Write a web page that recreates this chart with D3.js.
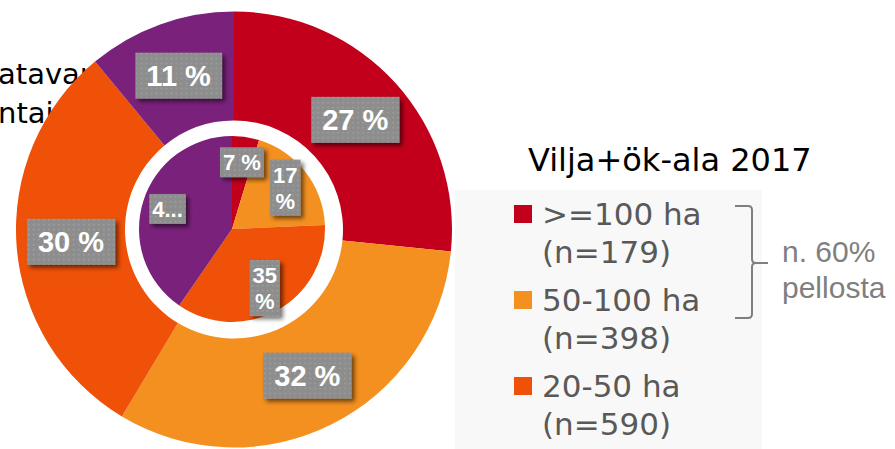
<!DOCTYPE html>
<html>
<head>
<meta charset="utf-8">
<script src="https://cdn.jsdelivr.net/npm/d3@7"></script>
<style>
  body { margin: 0; background: #fff; }
  svg { display: block; }
</style>
</head>
<body>
<svg id="chart" width="895" height="449"></svg>
<script>
// data
var categories = ['>=100 ha', '50-100 ha', '20-50 ha', 'alle 20 ha'];
var legendCounts = [179, 398, 590];
var outerValues = [26.6, 32.0, 30.4, 11.0];   // outer ring
var innerValues = [4.7, 19.6, 35.3, 40.4];    // inner pie
var innerLabels = [['7 %'], ['17', '%'], ['35', '%'], ['4...']];
var colors = ['#c3001b', '#f39020', '#ee5107', '#7a217c'];
var title = 'Vilja+ök-ala 2017';
var note = ['n. 60%', 'pellosta'];
var behindText = ['atavar', 'ntai'];

var svg = d3.select('#chart');
var defs = svg.append('defs');

var pat = defs.append('pattern')
  .attr('id', 'dots').attr('width', 5).attr('height', 5)
  .attr('patternUnits', 'userSpaceOnUse');
pat.append('rect').attr('width', 5).attr('height', 5).attr('fill', '#8d8d8d');
pat.append('rect').attr('x', 2).attr('y', 2).attr('width', 1.5).attr('height', 1.5).attr('fill', '#a2a2a2');

var shadow = defs.append('filter').attr('id', 'shadow')
  .attr('x', '-20%').attr('y', '-20%').attr('width', '150%').attr('height', '160%');
shadow.append('feGaussianBlur').attr('in', 'SourceAlpha').attr('stdDeviation', 2);
shadow.append('feOffset').attr('dx', 3).attr('dy', 3).attr('result', 'off');
shadow.append('feComponentTransfer').append('feFuncA').attr('type', 'linear').attr('slope', 0.55);
var merge = shadow.append('feMerge');
merge.append('feMergeNode');
merge.append('feMergeNode').attr('in', 'SourceGraphic');

// text sitting behind the donut (cut off in the original)
svg.selectAll('text.behind').data(behindText).enter()
  .append('text').attr('class', 'behind')
  .attr('x', -2).attr('y', function(d, i) { return 84 + i * 39; })
  .attr('font-family', 'DejaVu Sans').attr('font-size', 29).attr('fill', '#000')
  .text(function(d) { return d; });

// legend background + title
svg.append('rect').attr('x', 455).attr('y', 190).attr('width', 307).attr('height', 259).attr('fill', '#f8f8f8');
svg.append('text').attr('x', 528).attr('y', 171)
  .attr('font-family', 'DejaVu Sans').attr('font-size', 32).attr('fill', '#000')
  .text(title);

var pie = d3.pie().sort(null).value(function(d) { return d; });

// outer ring
var outer = svg.append('g').attr('transform', 'translate(234,229.5)');
var outerArc = d3.arc().innerRadius(109).outerRadius(218);
outer.selectAll('path').data(pie(outerValues)).enter()
  .append('path').attr('d', outerArc)
  .attr('fill', function(d, i) { return colors[i]; });

// inner pie
var inner = svg.append('g').attr('transform', 'translate(232,229)');
var innerArc = d3.arc().innerRadius(0).outerRadius(93);
var innerLabelArc = d3.arc().innerRadius(42).outerRadius(93);
inner.selectAll('path').data(pie(innerValues)).enter()
  .append('path').attr('d', innerArc)
  .attr('fill', function(d, i) { return colors[i]; });

function drawLabel(g, pos, lines, fs, padX, padY, lh) {
  var lab = g.append('g').attr('transform', 'translate(' + pos[0] + ',' + pos[1] + ')');
  var box = lab.append('rect').attr('fill', 'url(#dots)').attr('filter', 'url(#shadow)');
  var txt = lab.append('text')
    .attr('font-family', 'Liberation Sans, Arial').attr('font-weight', 'bold')
    .attr('font-size', fs).attr('fill', '#fff').attr('text-anchor', 'middle');
  lines.forEach(function(l, i) {
    txt.append('tspan').attr('x', 0)
      .attr('y', (i - (lines.length - 1) / 2) * lh + fs * 0.36)
      .text(l);
  });
  var bb = txt.node().getBBox();
  var h = lines.length * lh;
  box.attr('x', bb.x - padX).attr('y', -h / 2 - padY)
    .attr('width', bb.width + padX * 2).attr('height', h + padY * 2);
}

pie(outerValues).forEach(function(d) {
  drawLabel(outer, outerArc.centroid(d), [Math.round(d.data) + ' %'], 29, 11, 7, 32);
});
pie(innerValues).forEach(function(d, i) {
  drawLabel(inner, innerLabelArc.centroid(d), innerLabels[i], 22, 3, 2, 26);
});

// legend items (first three categories)
var legend = svg.append('g');
var item = legend.selectAll('g').data(legendCounts).enter()
  .append('g').attr('transform', function(d, i) { return 'translate(0,' + (225 + i * 86) + ')'; });
item.append('rect').attr('x', 514).attr('y', -20).attr('width', 18).attr('height', 18)
  .attr('fill', function(d, i) { return colors[i]; });
var it = item.append('text').attr('font-family', 'DejaVu Sans').attr('font-size', 31).attr('fill', '#595959');
it.append('tspan').attr('x', 542).attr('y', 0).text(function(d, i) { return categories[i]; });
it.append('tspan').attr('x', 542).attr('y', 37.5).text(function(d) { return '(n=' + d + ')'; });

// bracket + note
svg.append('path')
  .attr('d', 'M735,206 L748,206 Q752,206 752,210 L752,259 Q752,263 756,263 L768,263 M756,263 Q752,263 752,267 L752,314 Q752,318 748,318 L735,318')
  .attr('fill', 'none').attr('stroke', '#7f7f7f').attr('stroke-width', 2);
svg.append('text').attr('font-family', 'Liberation Sans, Arial').attr('font-size', 30).attr('fill', '#7f7f7f')
  .selectAll('tspan').data(note).enter().append('tspan')
  .attr('x', 782).attr('y', function(d, i) { return 262 + i * 36; })
  .text(function(d) { return d; });
</script>
</body>
</html>
